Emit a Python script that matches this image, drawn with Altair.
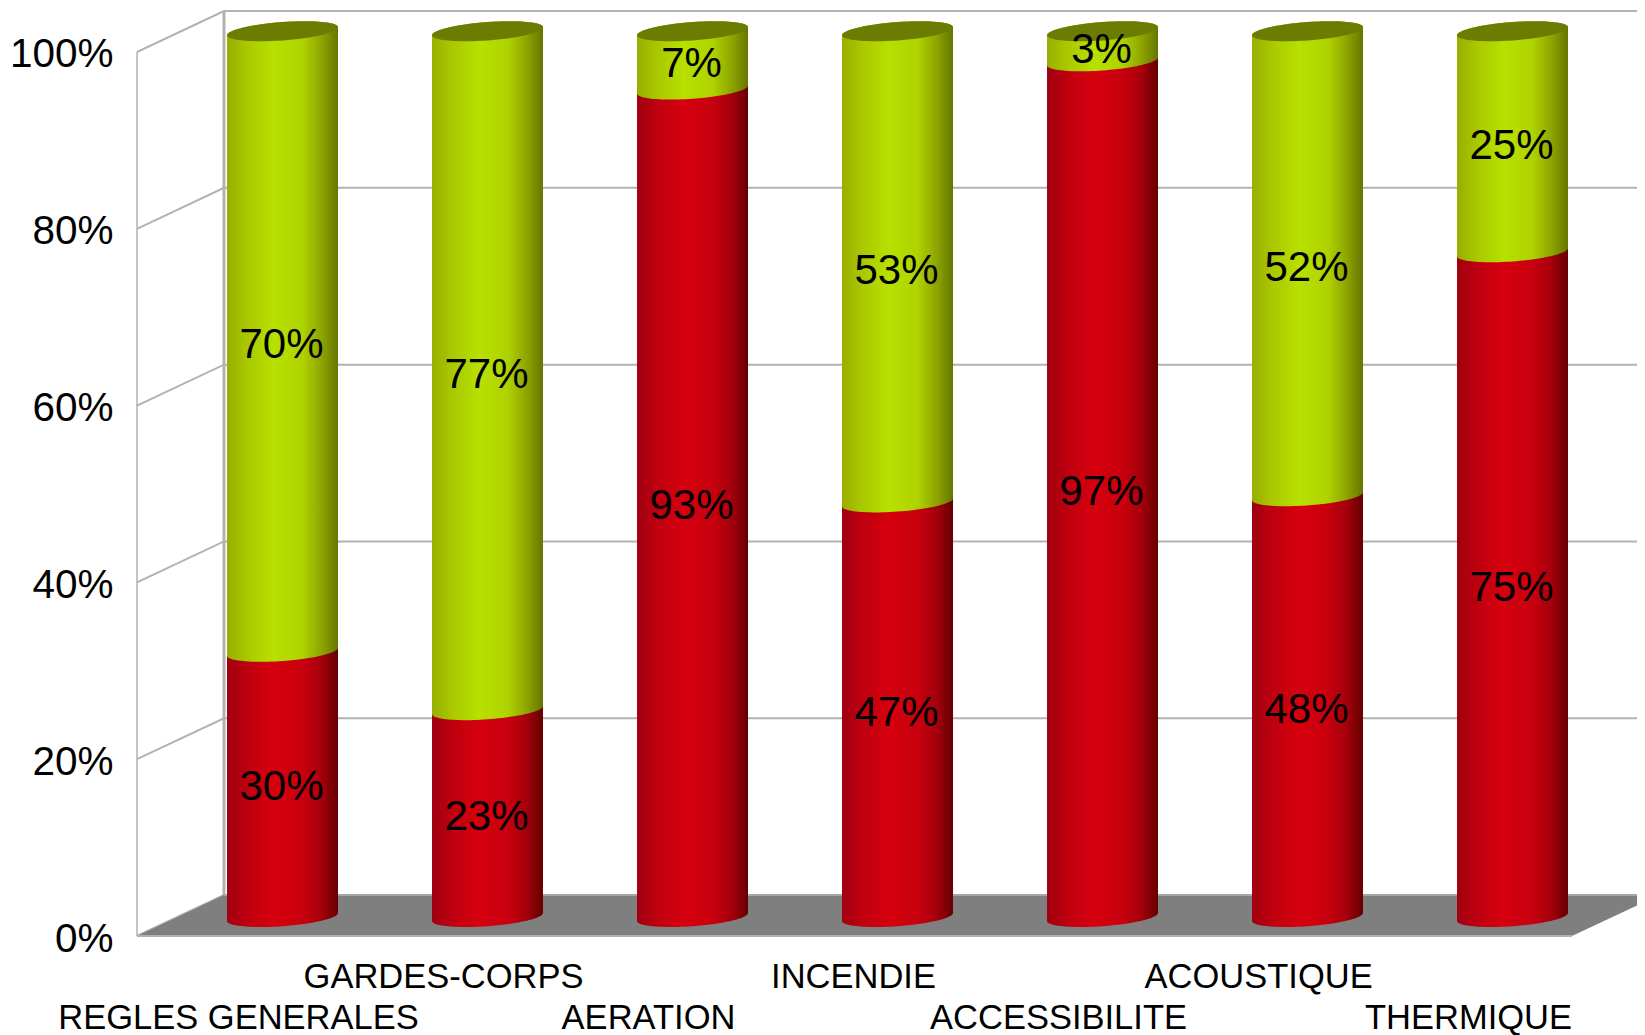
import math
import altair as alt
import pandas as pd

categories = ["REGLES GENERALES", "GARDES-CORPS", "AERATION", "INCENDIE",
              "ACCESSIBILITE", "ACOUSTIQUE", "THERMIQUE"]
red_labels = [30, 23, 93, 47, 97, 48, 75]
green_labels = [70, 77, 7, 53, 3, 52, 25]
red_heights = [30.0, 23.4, 93.6, 46.9, 96.8, 47.6, 75.2]
label_nudge = [0, 0, 0, 0, 0, -0.024, 0]
y_ticks = [0, 20, 40, 60, 80, 100]

FONT = "Liberation Sans"
X_MIN, X_MAX = -0.7098, 6.6073      # category units
FLOOR_RIGHT = 6.29
DEPTH_X, DEPTH_Y = 0.4244, 4.63     # oblique projection of the depth axis
Y_MAX = 104.75
TOP_LEVEL = 100.2
CENTER_LIFT = 2.15                  # cylinder axis sits part way into the floor
TEXT_DROP = 0.34
RADIUS_X, TILT, RADIUS_Y = 0.2707, 0.4525, 1.04
SAMPLES = 48


def arc(cat, level, side):
    """Upper (side=+1) or lower (side=-1) half of a tilted disc."""
    out = []
    for k in range(SAMPLES + 1):
        u = -math.cos(math.pi * k / SAMPLES)
        out.append((cat + RADIUS_X * u,
                    level + CENTER_LIFT + TILT * u + side * RADIUS_Y * math.sqrt(max(0, 1 - u * u))))
    return out


def body(cat, low, high):
    upper = arc(cat, high, 1)
    lower = arc(cat, low, -1)
    return [{"bar": cat, "x": a[0], "y": a[1], "y2": b[1]} for a, b in zip(upper, lower)]


red_rows, green_rows, cap_rows, label_rows = [], [], [], []
for i, (h, rl, gl) in enumerate(zip(red_heights, red_labels, green_labels)):
    red_rows += body(i, 0, h)
    green_rows += body(i, h, TOP_LEVEL)
    top_u, top_l = arc(i, TOP_LEVEL, 1), arc(i, TOP_LEVEL, -1)
    cap_rows += [{"bar": i, "x": a[0], "y": a[1], "y2": b[1]} for a, b in zip(top_u, top_l)]
    label_rows.append({"x": i - 0.005, "y": h / 2 + CENTER_LIFT - TEXT_DROP, "t": f"{rl}%"})
    label_rows.append({"x": i - 0.005, "y": (h + 100) / 2 + CENTER_LIFT - TEXT_DROP, "t": f"{gl}%"})

cat_rows = [{"x": i - 0.2146 + n, "y": -9.35 if i % 2 == 0 else -4.8, "t": c}
            for i, (c, n) in enumerate(zip(categories, label_nudge))]

wall_rows = []
for t in y_ticks:
    wall_rows += [
        {"id": f"s{t}", "x": X_MIN, "y": t},
        {"id": f"s{t}", "x": X_MIN + DEPTH_X, "y": t + DEPTH_Y},
        {"id": f"s{t}", "x": X_MAX, "y": t + DEPTH_Y},
    ]
edge_rows = [
    {"id": "front", "x": X_MIN, "y": 0}, {"id": "front", "x": X_MIN, "y": 100},
]
back_rows = [
    {"id": "back", "x": X_MIN + DEPTH_X, "y": DEPTH_Y},
    {"id": "back", "x": X_MIN + DEPTH_X, "y": 100 + DEPTH_Y},
]
right_bottom = DEPTH_Y * (X_MAX - FLOOR_RIGHT) / DEPTH_X
floor_rows = [
    {"x": X_MIN, "y": 0, "y2": 0},
    {"x": X_MIN + DEPTH_X, "y": DEPTH_Y, "y2": 0},
    {"x": FLOOR_RIGHT, "y": DEPTH_Y, "y2": 0},
    {"x": X_MAX, "y": DEPTH_Y, "y2": right_bottom},
]

xs = alt.Scale(domain=[X_MIN, X_MAX], nice=False, zero=False)
ys = alt.Scale(domain=[0, Y_MAX], nice=False, zero=False)
X = alt.X("x:Q", scale=xs, axis=None)
Y_AXIS = alt.Axis(
    values=y_ticks, title=None, grid=False, domain=False, ticks=False,
    labelExpr="datum.value + '%'", labelFont=FONT, labelFontSize=40.5,
    labelColor="#000000", labelPadding=24, labelBaseline="middle", labelFlush=False,
    labelOverlap=False, labelOffset=3)
Y = alt.Y("y:Q", scale=ys, axis=Y_AXIS)


def grad(stops):
    return alt.Gradient(gradient="linear", x1=0, x2=1, y1=0, y2=0,
                        stops=[alt.GradientStop(offset=o, color=c) for o, c in stops])


green_fill = grad([(0, "#98AE00"), (0.18, "#A9C800"), (0.42, "#B8E000"), (0.68, "#AFD300"),
                   (0.85, "#8FA500"), (1, "#657600")])
red_fill = grad([(0, "#A00010"), (0.18, "#BE000F"), (0.42, "#D6000E"), (0.68, "#C8000E"),
                 (0.85, "#A5000C"), (1, "#640000")])

walls = alt.Chart(pd.DataFrame(wall_rows)).mark_line(color="#B2B2B2", strokeWidth=2).encode(
    x=X, y=Y, detail="id:N", order=alt.Order("x:Q"))
front = alt.Chart(pd.DataFrame(edge_rows)).mark_line(color="#B2B2B2", strokeWidth=1.5).encode(
    x=X, y=Y, detail="id:N")
back = alt.Chart(pd.DataFrame(back_rows)).mark_line(color="#B2B2B2", strokeWidth=3).encode(
    x=X, y=Y, detail="id:N")
floor = alt.Chart(pd.DataFrame(floor_rows)).mark_area(color="#7F7F7F", orient="vertical").encode(
    x=X, y=Y, y2=alt.Y2("y2:Q"))
floor_top = alt.Chart(pd.DataFrame(floor_rows[1:])).mark_line(color="#A6A6A6", strokeWidth=2).encode(
    x=X, y=Y)
floor_base = alt.Chart(pd.DataFrame(floor_rows[:3])).mark_line(color="#B2B2B2", strokeWidth=2).encode(
    x=X, y=alt.Y("y2:Q", scale=ys, axis=Y_AXIS))
reds = alt.Chart(pd.DataFrame(red_rows)).mark_area(color=red_fill, orient="vertical").encode(
    x=X, y=Y, y2=alt.Y2("y2:Q"), detail="bar:N")
greens = alt.Chart(pd.DataFrame(green_rows)).mark_area(color=green_fill, orient="vertical").encode(
    x=X, y=Y, y2=alt.Y2("y2:Q"), detail="bar:N")
caps = alt.Chart(pd.DataFrame(cap_rows)).mark_area(color="#6B7C00", orient="vertical").encode(
    x=X, y=Y, y2=alt.Y2("y2:Q"), detail="bar:N")
labels = alt.Chart(pd.DataFrame(label_rows)).mark_text(
    font=FONT, fontSize=42, color="#000000", baseline="middle", align="center").encode(
    x=X, y=Y, text="t:N")
cats = alt.Chart(pd.DataFrame(cat_rows)).mark_text(
    font=FONT, fontSize=34.5, color="#000000", baseline="middle", align="center").encode(
    x=X, y=Y, text="t:N")

chart = alt.layer(walls, front, back, floor, floor_top, floor_base, reds, greens, caps, labels, cats).properties(
    width=1500, height=926,
    padding={"left": 129, "top": 2, "right": 0, "bottom": 99},
    autosize=alt.AutoSizeParams(type="none"),
    background="#FFFFFF",
).configure_view(stroke=None)

chart.save("out.html", embed_options={"renderer": "svg", "actions": False})
